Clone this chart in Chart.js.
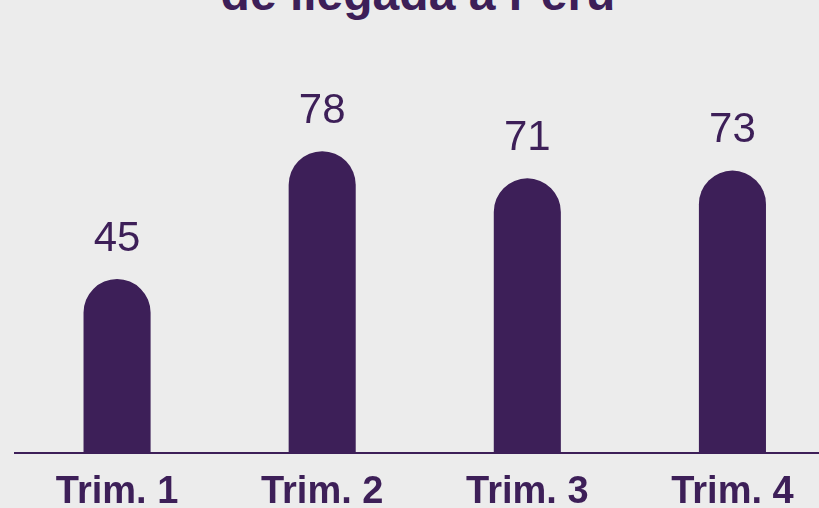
<!DOCTYPE html>
<html>
<head>
<meta charset="utf-8">
<script src="https://cdn.jsdelivr.net/npm/chart.js@4/dist/chart.umd.min.js"></script>
<style>
  html, body { margin: 0; padding: 0; background: #ececec; width: 819px; height: 508px; overflow: hidden; }
  #title { position: absolute; left: 0; top: -30px; width: 836px; text-align: center;
    font: bold 48px "Liberation Sans", Arial, sans-serif; line-height: 1; color: #3d1f58; white-space: nowrap; }
  #wrap { position: absolute; left: 0; top: 0; width: 835px; height: 531px; }
</style>
</head>
<body>
<div id="title">de llegada a Perú</div>
<div id="wrap"><canvas id="c"></canvas></div>
<script>
const categories = ["Trim. 1", "Trim. 2", "Trim. 3", "Trim. 4"];
const values = [45, 78, 71, 73];

const PURPLE = "#3d1f58";

const valueLabels = {
  id: "valueLabels",
  afterDatasetsDraw(chart) {
    const ctx = chart.ctx;
    const meta = chart.getDatasetMeta(0);
    ctx.save();
    ctx.fillStyle = PURPLE;
    ctx.font = '42px "Liberation Sans", Arial, sans-serif';
    ctx.textAlign = "center";
    ctx.textBaseline = "middle";
    meta.data.forEach((bar, i) => {
      ctx.fillText(String(values[i]), bar.x, bar.y - 40);
    });
    ctx.restore();
  }
};

new Chart(document.getElementById("c"), {
  type: "bar",
  data: {
    labels: categories,
    datasets: [{
      data: values,
      backgroundColor: PURPLE,
      borderRadius: { topLeft: 34, topRight: 34, bottomLeft: 0, bottomRight: 0 },
      borderSkipped: "bottom",
      barPercentage: 0.327,
      categoryPercentage: 1.0
    }]
  },
  options: {
    responsive: true,
    maintainAspectRatio: false,
    animation: false,
    layout: { padding: { left: 14.5, right: 0, top: 66, bottom: 0 } },
    plugins: { legend: { display: false }, tooltip: { enabled: false }, title: { display: false } },
    scales: {
      x: {
        grid: { display: false, drawTicks: false },
        border: { display: true, color: PURPLE, width: 2 },
        ticks: {
          color: PURPLE,
          padding: 16,
          font: { family: '"Liberation Sans", Arial, sans-serif', size: 38, weight: "bold" }
        }
      },
      y: {
        display: false,
        min: 0,
        max: 100
      }
    }
  },
  plugins: [valueLabels]
});
</script>
</body>
</html>
